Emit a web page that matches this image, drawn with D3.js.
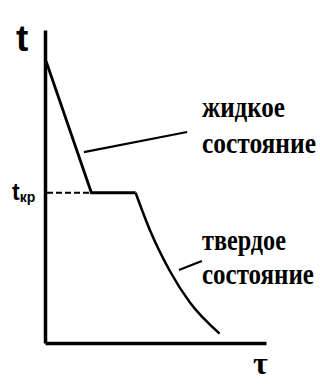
<!DOCTYPE html>
<html>
<head>
<meta charset="utf-8">
<script src="https://cdn.jsdelivr.net/npm/d3@7"></script>
<style>
  body { margin: 0; background: #fff; }
  svg { display: block; }
</style>
</head>
<body>
<div id="chart"></div>
<script>
// cooling curve: time (tau) vs temperature (t), arbitrary units 0..100
var liquidTau = [0.5, 21, 41];
var liquidTemp = [90, 48, 48];
var solidTau = [41, 47.5, 56.5, 65.5, 79];
var solidTemp = [48, 36, 23, 13, 3];
var tCrit = 48;

// leader lines from the curve to the labels
var liquidLeaderTau = [17.6, 64.3];
var liquidLeaderTemp = [61, 67.4];
var solidLeaderTau = [60.6, 71];
var solidLeaderTemp = [23.3, 26.2];

var liquidLabel = ["жидкое", "состояние"];
var solidLabel = ["твердое", "состояние"];

var width = 320, height = 385;

var svg = d3.select("#chart")
  .append("svg")
  .attr("width", width)
  .attr("height", height);

var x = d3.scaleLinear().domain([0, 100]).range([45, 266]);
var y = d3.scaleLinear().domain([0, 100]).range([343, 30]);

var xAxis = d3.axisBottom(x).tickValues([]).tickSize(0);
var yAxis = d3.axisLeft(y).tickValues([]).tickSize(0);

svg.append("g")
  .attr("transform", "translate(0," + y(0) + ")")
  .call(xAxis)
  .select(".domain")
  .attr("stroke", "#000")
  .attr("stroke-width", 3.5);

svg.append("g")
  .attr("transform", "translate(" + x(0) + ",0)")
  .call(yAxis)
  .select(".domain")
  .attr("stroke", "#000")
  .attr("stroke-width", 3.5);

function zip(a, b) { return a.map(function(d, i) { return [d, b[i]]; }); }

var line = d3.line()
  .x(function(d) { return x(d[0]); })
  .y(function(d) { return y(d[1]); });

var smooth = d3.line()
  .x(function(d) { return x(d[0]); })
  .y(function(d) { return y(d[1]); })
  .curve(d3.curveMonotoneX);

// dashed critical temperature
svg.append("line")
  .attr("x1", x(0) + 2).attr("x2", x(liquidTau[1]))
  .attr("y1", y(tCrit)).attr("y2", y(tCrit))
  .attr("stroke", "#000")
  .attr("stroke-width", 2)
  .attr("stroke-dasharray", "6,3");

svg.append("path")
  .attr("d", line(zip(liquidTau, liquidTemp)))
  .attr("fill", "none")
  .attr("stroke", "#000")
  .attr("stroke-width", 2.8)
  .attr("stroke-linejoin", "miter");

svg.append("path")
  .attr("d", smooth(zip(solidTau, solidTemp)))
  .attr("fill", "none")
  .attr("stroke", "#000")
  .attr("stroke-width", 2.5);

svg.append("path")
  .attr("d", line(zip(liquidLeaderTau, liquidLeaderTemp)))
  .attr("stroke", "#000")
  .attr("stroke-width", 2.2);

svg.append("path")
  .attr("d", line(zip(solidLeaderTau, solidLeaderTemp)))
  .attr("stroke", "#000")
  .attr("stroke-width", 2.2);

// labels, squeezed horizontally to the width seen in the picture
function label(txt, px, py, len) {
  var t = svg.append("text")
    .attr("font-family", "'Liberation Serif', serif")
    .attr("font-weight", "bold")
    .attr("font-size", 29)
    .text(txt);
  var k = len / t.node().getComputedTextLength();
  t.attr("transform", "translate(" + px + "," + py + ") scale(" + k + ",1)");
}
label(liquidLabel[0], 202, 117, 83);
label(liquidLabel[1], 202, 153, 114);
label(solidLabel[0], 202, 250, 84);
label(solidLabel[1], 202, 284, 112);

svg.append("text")
  .attr("x", 16).attr("y", 51)
  .attr("font-family", "'Liberation Sans', sans-serif")
  .attr("font-weight", "bold")
  .attr("font-size", 37)
  .text("t");

var tkr = svg.append("text")
  .attr("x", 12).attr("y", 200)
  .attr("font-family", "'Liberation Sans', sans-serif")
  .attr("font-weight", "bold")
  .attr("font-size", 23);
tkr.append("tspan").text("t");
tkr.append("tspan")
  .attr("font-size", 14)
  .attr("dy", 2)
  .text("кр");

svg.append("text")
  .attr("x", 253).attr("y", 374)
  .attr("font-family", "'Liberation Serif', serif")
  .attr("font-weight", "bold")
  .attr("font-size", 32)
  .text("τ");
</script>
</body>
</html>
